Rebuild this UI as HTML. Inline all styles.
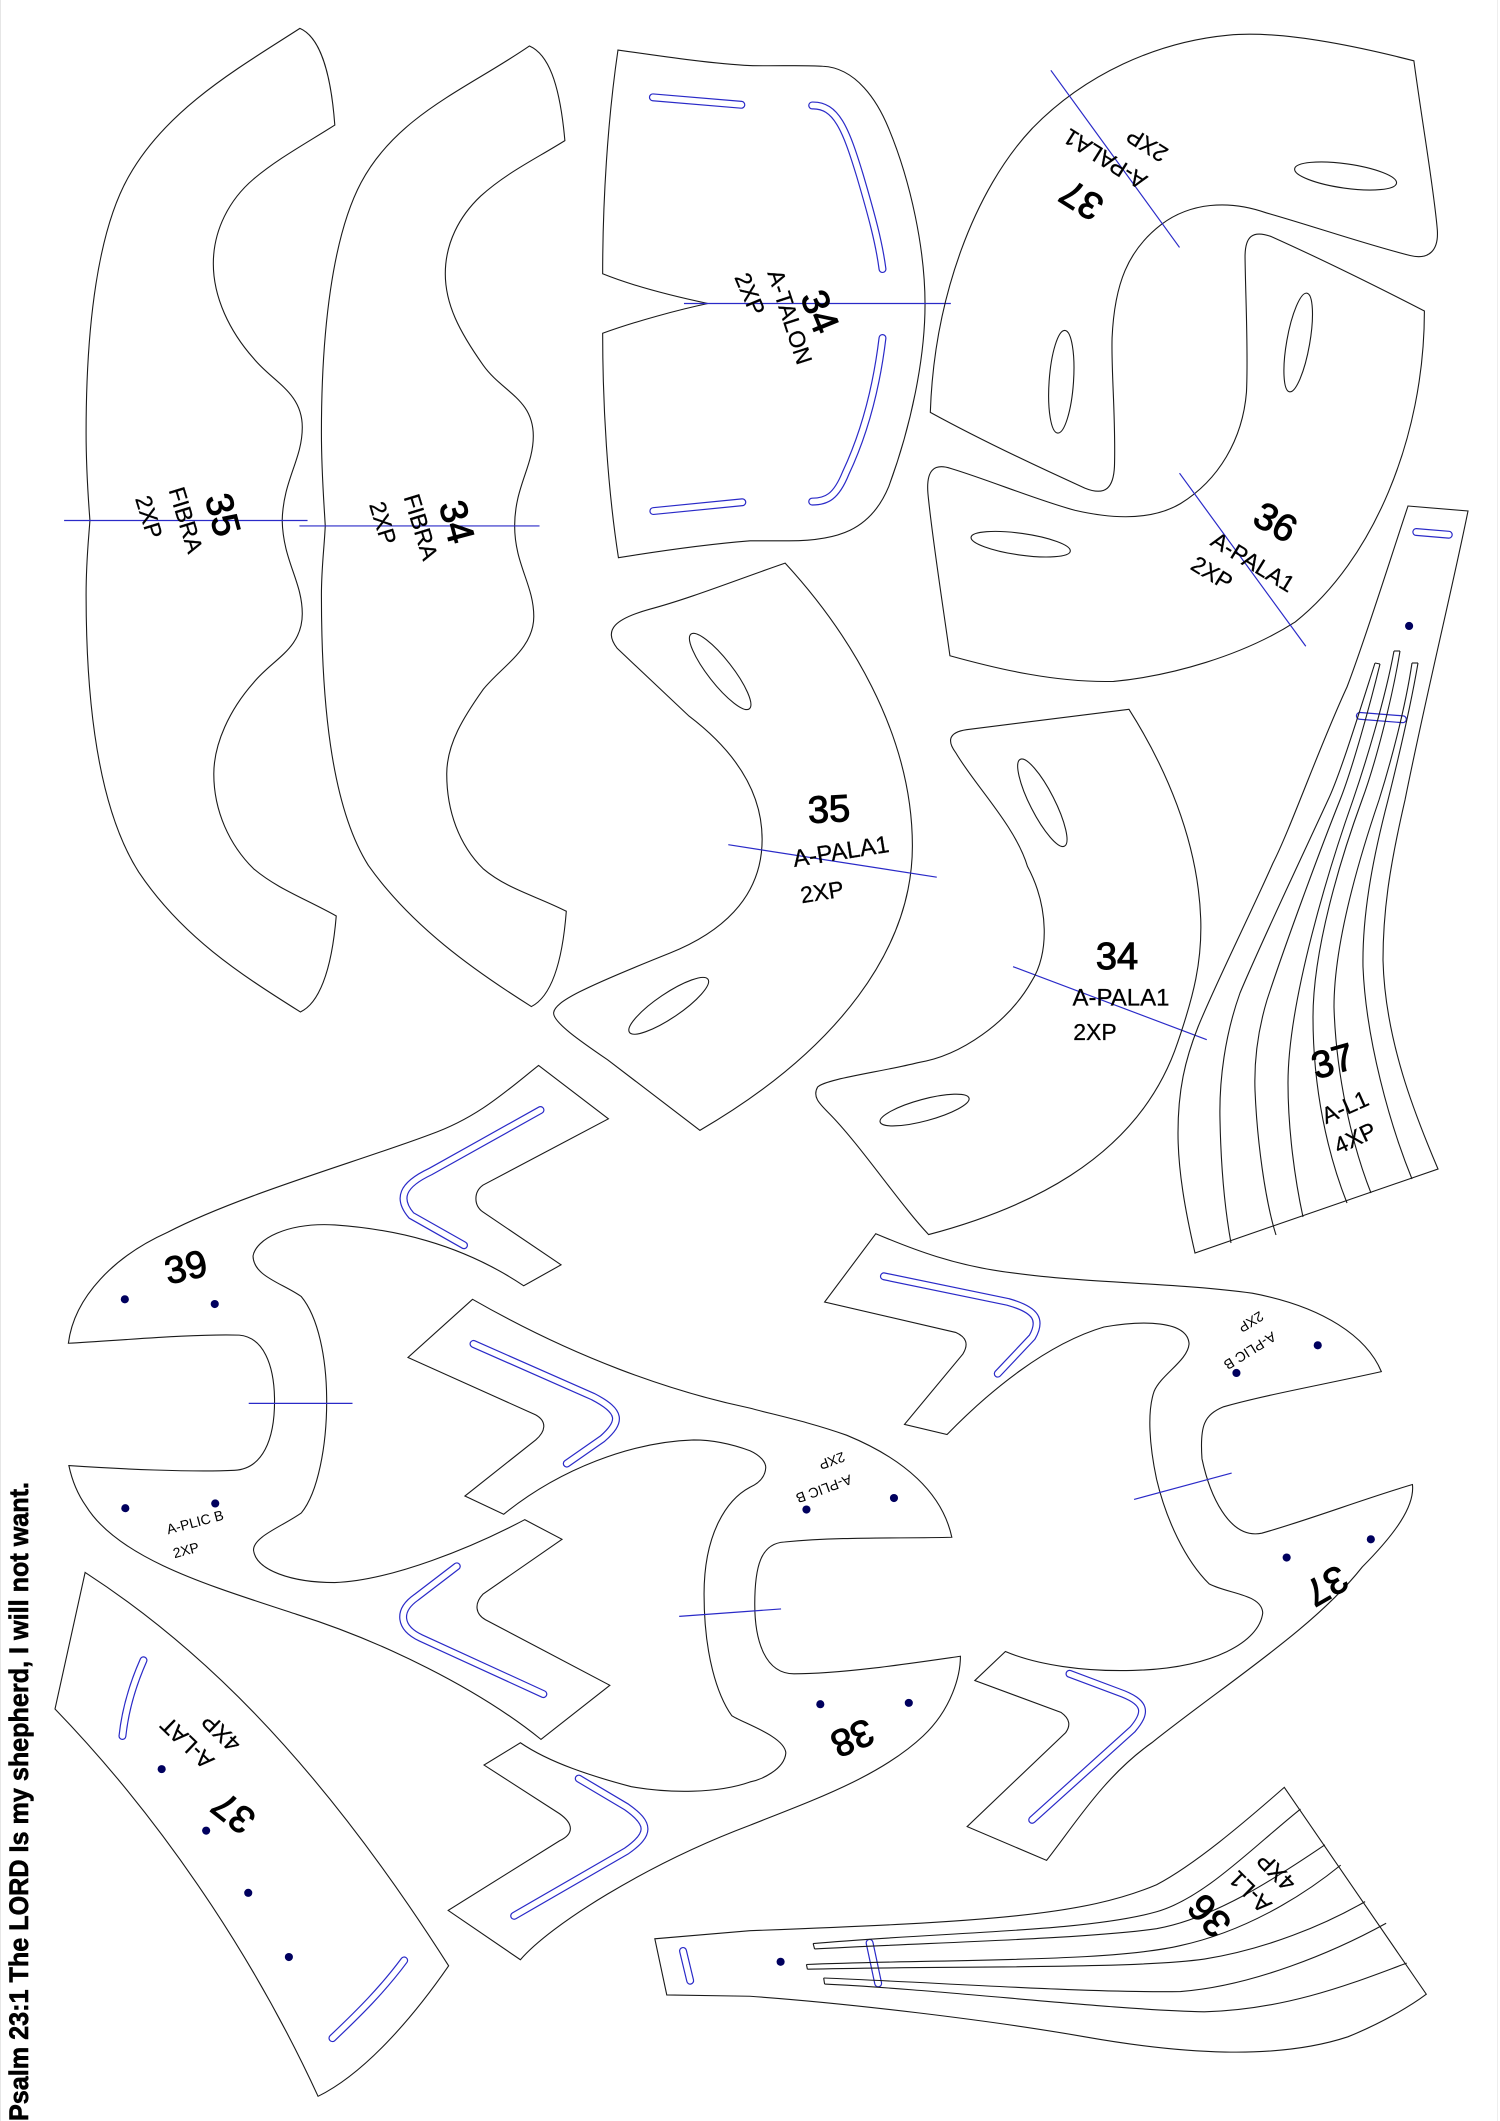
<!DOCTYPE html>
<html>
<head>
<meta charset="utf-8">
<style>
html,body{margin:0;padding:0;background:#fff}
svg{display:block}
path,ellipse{vector-effect:non-scaling-stroke}
.k path,.k ellipse{fill:none;stroke:#1a1a1a;stroke-width:1.1}
.b path{fill:none;stroke:#2a2ac8;stroke-width:1.2}
.d ellipse{fill:#00005e}
text{font-family:"Liberation Sans",sans-serif;fill:#000;text-anchor:middle;dominant-baseline:central}
.n{font-size:38px;stroke:#000;stroke-width:1px}
.m{font-size:23px;stroke:#000;stroke-width:.25px}
.s{font-size:14px}
</style>
</head>
<body>
<svg width="1500" height="2121" viewBox="0 0 1500 2121" xmlns="http://www.w3.org/2000/svg">
<rect width="1500" height="2121" fill="#fff"/>
<rect x="0" y="0" width="1" height="2121" fill="#e6e6e6"/>
<rect x="1497" y="0" width="1" height="2121" fill="#eeeeee"/>
<defs>
<g id="s1">
<path d="M1365,144 L1550,155"/><path d="M1366,756 L1552,743"/>
</g>
<g id="s2">
<path d="M130,156 C180,155 200,190 230,260 C255,320 270,360 277,398"/>
<path d="M277,500 C265,570 240,640 200,700 C180,735 160,742 130,742"/>
<path d="M1393,787 L1461,791"/><path d="M1275,1059 L1365,1064"/>
</g>
<g id="s3">
<path d="M1130,74 L900,165 C840,185 830,205 860,230 L970,274"/>
<path d="M955,749 L870,795 C830,815 835,840 880,855 L1136,938"/>
<path d="M990,420 L1240,498 C1300,520 1300,535 1260,560 L1185,597"/>
<path d="M1210,1063 L1310,1105 C1360,1130 1360,1145 1310,1170 L1075,1266"/>
<path d="M300,888 C280,920 262,960 256,1000"/>
<path d="M845,1332 C800,1375 750,1410 695,1447"/>
<path d="M1428,1318 L1443,1362"/>
</g>
<g id="s4">
<path d="M280,320 L540,358 C600,370 610,385 590,410 L518,464"/>
<path d="M668,908 L770,935 C830,950 830,965 800,990 L590,1124"/>
<path d="M250,1306 L268,1366"/>
</g>
</defs>

<g fill="none" stroke-linecap="round" stroke-linejoin="round">
<g transform="scale(.4783,.676)"><use href="#s1" stroke="#2a2ac8" stroke-width="8"/><use href="#s1" stroke="#fff" stroke-width="5.6"/></g>
<g transform="translate(750,0) scale(.4783,.676)"><use href="#s2" stroke="#2a2ac8" stroke-width="8"/><use href="#s2" stroke="#fff" stroke-width="5.6"/></g>
<g transform="translate(0,1060) scale(.4783,.676)"><use href="#s3" stroke="#2a2ac8" stroke-width="8"/><use href="#s3" stroke="#fff" stroke-width="5.6"/></g>
<g transform="translate(750,1060) scale(.4783,.676)"><use href="#s4" stroke="#2a2ac8" stroke-width="8"/><use href="#s4" stroke="#fff" stroke-width="5.6"/></g>
</g>

<!-- Q1 -->
<g class="k" transform="scale(.4783,.676)">
<path d="M627,42 C660,52 690,90 700,185 C640,212 580,235 530,265 C480,295 446,340 446,390 C446,440 480,490 530,530 C570,565 632,580 632,632 C632,680 592,710 590,770 C592,830 632,860 632,908 C632,960 570,975 530,1010 C480,1050 447,1100 447,1145 C447,1200 480,1250 530,1285 C580,1315 640,1330 703,1355 C693,1440 665,1485 628,1497 C500,1440 380,1385 290,1290 C200,1190 180,1020 180,880 C180,830 185,800 188,770 C185,740 180,700 180,640 C180,480 205,340 270,260 C350,160 500,100 627,42 Z"/>
<path d="M1107,68 C1145,80 1170,120 1181,208 C1120,235 1060,255 1005,290 C960,320 931,360 931,405 C931,450 960,490 1010,540 C1050,580 1115,590 1115,645 C1115,690 1076,720 1076,778 C1076,835 1116,865 1116,912 C1116,960 1050,985 1010,1020 C970,1060 934,1100 934,1145 C934,1200 960,1250 1010,1285 C1060,1315 1120,1325 1184,1348 C1175,1430 1150,1475 1111,1489 C990,1435 860,1370 770,1280 C690,1190 672,1030 672,880 C672,840 678,810 680,778 C678,750 672,700 672,640 C672,490 695,350 755,270 C830,170 980,130 1107,68 Z"/>
<path d="M1292,74 C1400,85 1500,95 1568,97 C1620,98 1680,96 1720,98 C1790,100 1835,150 1858,190 C1905,270 1934,370 1934,450 C1934,530 1905,630 1858,720 C1820,785 1750,800 1650,800 C1600,800 1580,800 1568,800 C1480,805 1380,815 1293,825 C1270,720 1260,600 1260,493 C1330,475 1420,458 1480,449 C1420,440 1330,425 1260,405 C1260,300 1270,180 1292,74 Z"/>
</g>
<g class="b" transform="scale(.4783,.676)">
<path d="M134,770 L643,770"/><path d="M626,778 L1128,778"/><path d="M1430,449 L1988,449"/>
</g>

<!-- Q2 -->
<g class="k" transform="translate(750,0) scale(.4783,.676)">
<path d="M1388,90 C1250,65 1100,45 1000,52 C850,62 700,110 590,190 C470,280 385,440 377,610 C480,650 600,690 700,722 C745,735 760,720 762,690 C765,620 755,550 757,500 C762,420 790,370 860,332 C920,300 1000,295 1080,315 C1180,335 1280,360 1380,378 C1420,385 1440,370 1437,340 C1430,280 1405,180 1388,90 Z"/>
<path d="M1410,460 C1300,420 1200,385 1090,350 C1050,340 1035,350 1035,380 C1036,440 1042,520 1038,580 C1030,650 980,710 900,745 C840,770 760,768 680,755 C600,740 500,710 420,693 C385,685 368,695 372,730 C380,790 400,880 418,970 C520,990 640,1010 760,1008 C880,1000 1030,970 1140,920 C1300,830 1410,650 1410,460 Z"/>
</g>
<g class="b" transform="translate(750,0) scale(.4783,.676)">
<path d="M629,104 L898,366"/><path d="M898,700 L1162,956"/><path d="M550,1430 L955,1538"/>
</g>

<!-- overview-coordinate pieces -->
<g class="k" transform="scale(1.3537)">
<ellipse cx="994" cy="130" rx="38" ry="9" transform="rotate(8 994 130)"/>
<ellipse cx="784" cy="282" rx="38" ry="9" transform="rotate(-86 784 282)"/>
<ellipse cx="959" cy="253" rx="37" ry="8.5" transform="rotate(-80 959 253)"/>
<ellipse cx="754" cy="402" rx="37" ry="8" transform="rotate(8 754 402)"/>
<ellipse cx="532" cy="496" rx="35" ry="9" transform="rotate(52 532 496)"/>
<ellipse cx="494" cy="743" rx="35" ry="9" transform="rotate(-34 494 743)"/>
<ellipse cx="770" cy="593" rx="36" ry="9" transform="rotate(63 770 593)"/>
<ellipse cx="683" cy="820" rx="34" ry="8" transform="rotate(-15 683 820)"/>
<path d="M580,416 C625,465 674,540 674,625 C674,700 620,775 517,835 L449,783 C430,770 408,755 409,748 C410,740 430,730 495,704 C530,690 563,665 563,620 C563,575 530,545 509,529 L456,479 C445,465 455,457 480,450 C510,442 545,428 580,416 Z"/>
<path d="M834,524 L714,539 C700,541 700,548 706,556 C720,580 750,610 759,640 C775,670 775,705 762,725 C745,755 710,780 678,785 C650,792 610,797 604,803 C600,810 605,815 612,822 C635,845 665,890 686,912 C750,895 840,860 870,770 C882,735 888,710 887,679 C885,620 860,565 834,524 Z"/>
</g>
<!-- L1 37 in page pixels -->
<g class="k">
<path d="M1408,506 L1468,511 C1452,590 1425,700 1405,800 C1390,865 1383,910 1383,960 C1385,1040 1415,1115 1438,1169 L1195,1253 C1185,1210 1178,1170 1178,1133 C1178,1090 1185,1060 1198,1027 C1215,985 1250,915 1273,863 C1290,830 1320,745 1347,687 C1365,640 1390,560 1408,506 Z"/>
<path d="M1375,663 C1360,710 1340,775 1328,800 C1305,850 1260,945 1240,993 C1225,1035 1219,1080 1220,1120 C1221,1170 1225,1210 1231,1243"/>
<path d="M1380,664 C1370,705 1352,770 1340,800 C1320,850 1285,945 1267,1000 C1258,1030 1254,1060 1255,1090 C1257,1140 1265,1200 1276,1235"/>
<path d="M1394,651 C1385,700 1365,765 1353,800 C1330,865 1288,1000 1288,1083 C1288,1130 1295,1180 1303,1217"/>
<path d="M1400,651 C1392,700 1375,765 1362,800 C1340,860 1313,950 1313,1017 C1313,1090 1328,1155 1347,1203"/>
<path d="M1412,663 C1405,710 1390,765 1379,800 C1362,850 1334,940 1334,1007 C1336,1075 1352,1145 1371,1193"/>
<path d="M1418,663 C1410,710 1398,760 1388,800 C1375,850 1362,910 1363,967 C1366,1040 1390,1125 1412,1179"/>
<path d="M1375,663 L1380,664"/><path d="M1394,651 L1400,651"/><path d="M1412,663 L1418,663"/>
</g>
<g class="b" transform="scale(1.3537)"><path d="M538,624 L692,648"/></g>

<!-- Q3 -->
<g class="k" transform="translate(0,1060) scale(.4783,.676)">
<path d="M1126,8 L1272,87 L1010,185 C990,195 990,215 1010,225 L1173,303 L1095,334 C960,270 820,250 700,244 C600,240 535,265 529,290 C530,320 590,330 630,350 C665,380 683,440 683,505 C683,570 665,640 630,670 C590,690 530,705 530,725 C535,755 610,773 700,773 C820,770 990,720 1097,680 L1175,709 L1010,790 C990,805 995,820 1015,828 L1275,925 L1131,1005 C1000,930 800,860 620,820 C450,780 250,740 180,660 C160,640 150,620 144,600 C250,605 400,610 490,607 C550,605 574,560 574,505 C574,450 550,410 500,407 C400,405 250,415 143,419 C155,350 240,290 350,255 C500,200 750,150 900,110 C1000,85 1060,45 1126,8 Z"/>
<path d="M988,354 L853,440 L1120,525 C1145,535 1140,550 1120,562 L972,645 L1053,672 C1170,605 1320,565 1450,562 C1490,562 1530,568 1568,578 C1590,585 1601,595 1601,603 C1600,615 1590,625 1568,632 C1520,650 1472,700 1472,790 C1472,880 1500,940 1530,970 C1550,980 1640,1000 1643,1025 C1640,1050 1590,1065 1568,1068 C1500,1085 1400,1085 1320,1075 C1240,1060 1150,1040 1088,1010 L1012,1043 L1170,1115 C1200,1130 1200,1145 1170,1155 L937,1258 L1088,1331 C1150,1280 1350,1190 1568,1132 C1700,1095 1840,1060 1930,1000 C1990,960 2008,910 2008,882 C1900,893 1760,908 1660,908 C1600,908 1578,860 1578,805 C1578,750 1590,715 1640,713 C1760,705 1880,708 1990,706 C1970,640 1890,590 1770,555 C1690,535 1620,525 1568,515 C1400,490 1200,440 988,354 Z"/>
<path d="M178,758 C400,860 650,1020 938,1340 C860,1420 760,1500 665,1533 C520,1310 320,1110 115,960 Z"/>
</g>
<g class="b" transform="translate(0,1060) scale(.4783,.676)">
<path d="M520,508 L737,508"/><path d="M1420,823 L1633,812"/>
</g>
<g class="d" transform="translate(0,1060) scale(.4783,.676)">
<ellipse cx="261" cy="354" rx="8.5" ry="6"/><ellipse cx="449" cy="361" rx="8.5" ry="6"/>
<ellipse cx="262" cy="663" rx="8.5" ry="6"/><ellipse cx="450" cy="656" rx="8.5" ry="6"/>
<ellipse cx="338" cy="1049" rx="8.5" ry="6"/><ellipse cx="431" cy="1140" rx="8.5" ry="6"/>
<ellipse cx="519" cy="1232" rx="8.5" ry="6"/><ellipse cx="604" cy="1327" rx="8.5" ry="6"/>
</g>

<!-- Q4 -->
<g class="k" transform="translate(750,1060) scale(.4783,.676)">
<path d="M263,257 L156,358 L430,403 C452,410 458,420 445,435 L323,539 L412,554 C500,490 620,420 740,395 C820,385 915,385 918,420 C915,445 860,465 845,490 C830,520 835,570 850,620 C870,680 910,740 960,775 C1000,790 1070,790 1072,818 C1065,860 970,900 800,903 C700,905 600,895 534,875 L470,918 L650,965 C670,975 670,985 660,995 L454,1134 L620,1184 C680,1130 740,1060 840,1010 C1000,920 1180,840 1280,750 C1350,700 1390,660 1385,628 C1280,650 1170,680 1070,700 C1000,710 960,640 945,590 C940,540 950,525 990,513 C1080,495 1200,480 1320,461 C1290,410 1200,365 1050,345 C900,330 700,330 550,315 C430,305 340,280 263,257 Z"/>
<path d="M-199,1300 L-174,1383 L0,1385 C200,1395 500,1420 700,1445 C900,1470 1100,1480 1250,1445 C1320,1425 1380,1400 1414,1382 L1117,1076 C1030,1130 930,1190 850,1220 C700,1265 500,1275 0,1288 Z"/>
<path d="M132,1307 C400,1290 700,1290 850,1260 C950,1240 1050,1165 1151,1108"/>
<path d="M135,1315 C400,1305 700,1300 850,1285 C970,1270 1100,1210 1202,1161"/>
<path d="M118,1338 C400,1330 750,1335 900,1310 C1030,1290 1150,1240 1235,1191"/>
<path d="M120,1345 C400,1340 800,1345 950,1330 C1080,1315 1200,1280 1286,1245"/>
<path d="M154,1358 C400,1365 700,1380 900,1378 C1050,1370 1220,1320 1330,1277"/>
<path d="M156,1367 C400,1375 750,1405 950,1408 C1130,1405 1280,1360 1373,1336"/>
<path d="M132,1307 L135,1315"/><path d="M118,1338 L120,1345"/><path d="M154,1358 L156,1367"/>
</g>
<g class="b" transform="translate(750,1060) scale(.4783,.676)">
<path d="M803,650 L1007,611"/>
</g>
<g class="d" transform="translate(750,1060) scale(.4783,.676)">
<ellipse cx="1187" cy="422" rx="8.5" ry="6"/><ellipse cx="1017" cy="463" rx="8.5" ry="6"/>
<ellipse cx="301" cy="648" rx="8.5" ry="6"/><ellipse cx="118" cy="665" rx="8.5" ry="6"/>
<ellipse cx="147" cy="953" rx="8.5" ry="6"/><ellipse cx="332" cy="951" rx="8.5" ry="6"/>
<ellipse cx="1122" cy="736" rx="8.5" ry="6"/><ellipse cx="1298" cy="709" rx="8.5" ry="6"/>
<ellipse cx="64" cy="1334" rx="8.5" ry="6"/>
</g>
<g class="d" transform="translate(750,0) scale(.4783,.676)"><ellipse cx="1378" cy="926" rx="8.5" ry="6"/></g>

<!-- labels -->
<text class="n" transform="translate(222,515) rotate(75)">35</text>
<text class="m" transform="translate(186,520) rotate(73)">FIBRA</text>
<text class="m" transform="translate(149,517) rotate(73)">2XP</text>
<text class="n" transform="translate(456,522) rotate(75)">34</text>
<text class="m" transform="translate(421,527) rotate(73)">FIBRA</text>
<text class="m" transform="translate(383,523) rotate(73)">2XP</text>
<text class="n" transform="translate(819,312) rotate(68)">34</text>
<text class="m" transform="translate(790,317) rotate(72)">A-TALON</text>
<text class="m" transform="translate(750,294) rotate(67)">2XP</text>
<text class="n" transform="translate(1082,199) rotate(212)">37</text>
<text class="m" transform="translate(1105,159) rotate(212)">A-PALA1</text>
<text class="m" transform="translate(1147,145) rotate(212)">2XP</text>
<text class="n" transform="translate(1275,523) rotate(29)">36</text>
<text class="m" transform="translate(1253,562) rotate(31.5)">A-PALA1</text>
<text class="m" transform="translate(1212,573) rotate(31.5)">2XP</text>
<text class="n" transform="translate(829,810) rotate(-3)">35</text>
<text class="m" transform="translate(841,852) rotate(-9)" style="font-size:24px">A-PALA1</text>
<text class="m" transform="translate(822,892) rotate(-9)">2XP</text>
<text class="n" transform="translate(1117,957)">34</text>
<text class="m" transform="translate(1121,998)" style="font-size:24px">A-PALA1</text>
<text class="m" transform="translate(1095,1032)">2XP</text>
<text class="n" transform="translate(1333,1062) rotate(-16)">37</text>
<text class="m" transform="translate(1345,1107) rotate(-24)">A-L1</text>
<text class="m" transform="translate(1355,1138) rotate(-25)">4XP</text>
<text class="n" transform="translate(186,1268) rotate(-13)">39</text>
<text class="s" transform="translate(195,1522) rotate(-15)">A-PLIC B</text>
<text class="s" transform="translate(186,1550) rotate(-15)">2XP</text>
<text class="n" transform="translate(234,1812) rotate(218)">37</text>
<text class="m" transform="translate(187,1743) rotate(224)">A-LAT</text>
<text class="m" transform="translate(221,1733) rotate(224)">4XP</text>
<text class="n" transform="translate(852,1737) rotate(157)">38</text>
<text class="s" transform="translate(824,1489) rotate(160)">A-PLIC B</text>
<text class="s" transform="translate(832,1461) rotate(160)">2XP</text>
<text class="n" transform="translate(1326,1585) rotate(150)">37</text>
<text class="s" transform="translate(1250,1351) rotate(148)">A-PLIC B</text>
<text class="s" transform="translate(1251,1322) rotate(148)">2XP</text>
<text class="n" transform="translate(1210,1915) rotate(228)">36</text>
<text class="m" transform="translate(1250,1892) rotate(225)">A-L1</text>
<text class="m" transform="translate(1276,1872) rotate(225)">4XP</text>
<text transform="translate(28,2121) rotate(-90)" font-size="27" font-weight="bold" style="text-anchor:start;dominant-baseline:auto" stroke="#000" stroke-width=".6" textLength="639" lengthAdjust="spacingAndGlyphs">Psalm 23:1 The LORD Is my shepherd, I will not want.</text>
</svg>
</body>
</html>
